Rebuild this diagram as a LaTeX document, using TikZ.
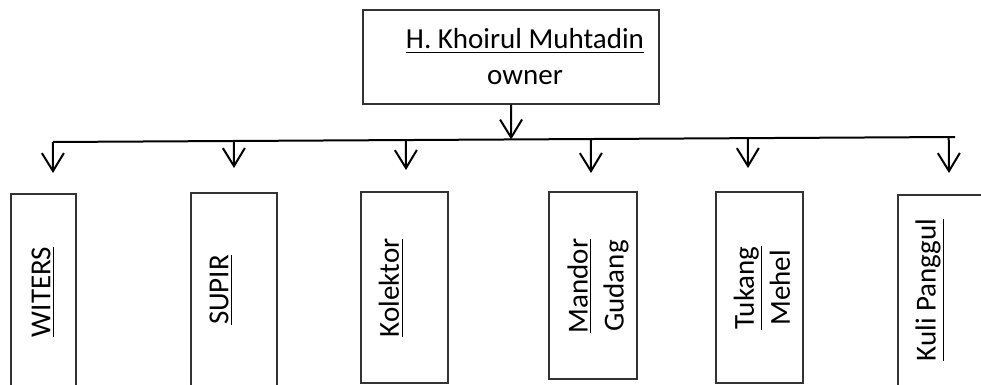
\documentclass[tikz,border=0pt]{standalone}
\usepackage{fontspec}
\setmainfont{Carlito}
\usepackage{xcolor}
\usepackage{tikz}
\usetikzlibrary{arrows.meta,calc}
\definecolor{ink}{HTML}{000000}
\definecolor{boxline}{HTML}{333333}
\newcommand{\orgfont}{\fontsize{14.5}{18}\selectfont}
\tikzset{
  post/.style={
    rectangle,
    draw=boxline,
    line width=0.6pt,
    inner sep=0pt
  },
  bosslabel/.style={
    align=center,
    inner sep=0pt,
    font=\orgfont
  },
  postlabel/.style={
    rotate=90,
    align=center,
    inner sep=0pt,
    font=\orgfont
  },
  bus/.style={
    draw=ink,
    line width=1pt
  },
  link/.style={
    -{Straight Barb[length=9pt,width=11pt,line width=1pt]},
    draw=ink,
    line width=1pt
  }
}

\begin{document}
\begin{tikzpicture}[x=0.5pt, y=-0.5pt, every node/.style={text=ink}]

\useasboundingbox (0,0) rectangle (981,385);
\clip (0,0) rectangle (981,385);

% ---- Owner ----
\node[post, minimum width=148pt, minimum height=47pt] (owner) at (511,57) {};
\node[bosslabel] (ownerText) at (525,57)
  {\underline{H. Khoirul Muhtadin}\\owner};

% ---- Staff boxes (the lower ones run past the page) ----
\node[post, minimum width=32.5pt, minimum height=98pt] (witers) at (43.5,292) {};
\node[post, minimum width=43pt, minimum height=97.5pt] (supir) at (234,290.5) {};
\node[post, minimum width=43.5pt, minimum height=95.5pt] (kolektor) at (404.5,287.5) {};
\node[post, minimum width=44pt, minimum height=93.5pt] (mandor) at (593,285.5) {};
\node[post, minimum width=43.5pt, minimum height=95.5pt] (tukang) at (759.5,287.5) {};
\node[post, minimum width=80pt, minimum height=96.5pt] (kuli) at (978,291.5) {};

% ---- Rotated labels ----
\node[postlabel] (witersText) at (43,292) {\underline{WITERS}};
\node[postlabel] (supirText) at (221,290) {\underline{SUPIR}};
\node[postlabel] (kolektorText) at (391,288) {\underline{Kolektor}};
\node[postlabel] (mandorText) at (598,286) {\underline{Mandor}\\Gudang};
\node[postlabel] (tukangText) at (762,288) {\underline{Tukang}\\Mehel};
\node[postlabel] (kuliText) at (930,290) {\underline{Kuli Panggul}};

% ---- Distribution line ----
\coordinate (busW) at (53,142);
\coordinate (busE) at (955,137);
\draw[bus] (busW) -- (busE);

\coordinate (ownerTip) at ($(busW)!(owner.south)!(busE)$);
\draw[link] (owner.south) -- (ownerTip);

% tips of the down arrows, just above each box
\coordinate (witersTip) at (53,173);
\coordinate (supirTip) at (234,168);
\coordinate (kolektorTip) at (406,170);
\coordinate (mandorTip) at (591,173);
\coordinate (tukangTip) at (748,168);
\coordinate (kuliTip) at (949,173);

\foreach \post in {witers,supir,kolektor,mandor,tukang,kuli}
  \draw[link] ($(busW)!(\post Tip)!(busE)$) -- (\post Tip);

\end{tikzpicture}
\end{document}
